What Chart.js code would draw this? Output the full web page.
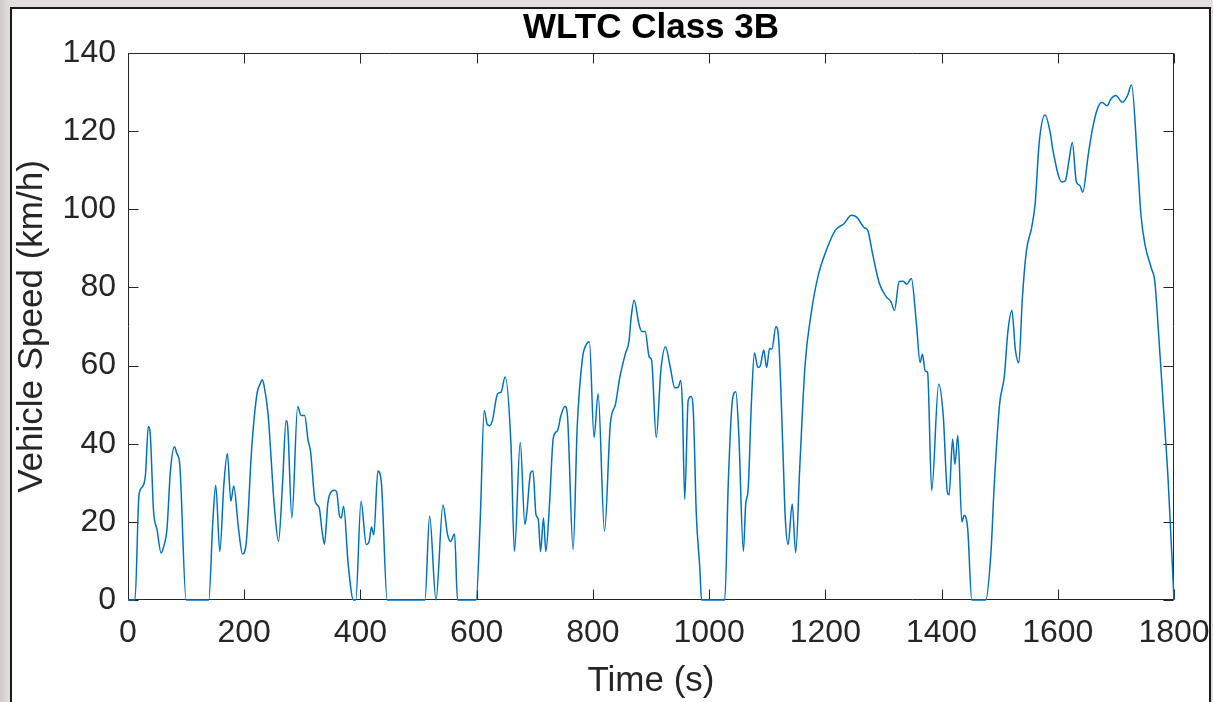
<!DOCTYPE html>
<html>
<head>
<meta charset="utf-8">
<script src="https://cdn.jsdelivr.net/npm/chart.js@4.4.1/dist/chart.umd.min.js"></script>
<style>
  html, body { margin: 0; padding: 0; }
  body { width: 1213px; height: 702px; overflow: hidden; position: relative;
         background: linear-gradient(90deg, #cfcaca 0px, #dcd8d8 6px, #e2dede 11px, #e2dede 100%); }
  #panel { position: absolute; left: 10px; top: 7px; width: 1197px; height: 700px;
           background: #ffffff; border: 2px solid #1a1a1a; }
  #wrap { position: absolute; left: 0; top: 0; width: 1213px; height: 702px; }
</style>
</head>
<body>
<div id="panel"></div>
<div id="wrap"><canvas id="c" width="1213" height="702"></canvas></div>
<script>
// ---- data (time in s, speed in km/h) ----
const timeSec = [
  0, 12, 19, 25, 30, 35, 38, 44, 50, 57, 62, 67, 73, 80, 84, 89, 100,
  139, 146, 151, 158, 165, 171, 177, 182, 190, 197, 203, 213, 222, 228, 231, 234, 241, 252, 259,
  266, 272, 275, 282, 292, 298, 304, 310, 314, 322, 329, 334, 338, 344, 351, 355, 359, 364, 367,
  371, 379, 388, 392, 401, 410, 415, 419, 423, 430, 436, 446,
  511, 519, 530, 542, 550, 555, 562, 567,
  599, 606, 613, 618, 622, 627, 636, 642, 649, 659, 665, 675, 683, 686, 693, 697, 702, 706,
  710, 715, 719, 725, 732, 739, 745, 752, 756, 766, 773, 782, 788, 794, 802, 809, 820, 830,
  839, 846, 856, 862, 866, 871, 879, 884, 890, 897, 901, 909, 917, 925, 933, 941, 947, 951,
  954, 958, 964, 969, 973, 978, 984, 987,
  1027, 1033, 1040, 1046, 1051, 1059, 1063, 1067, 1073, 1078, 1084, 1088, 1094, 1099, 1104,
  1108, 1115, 1120, 1127, 1131, 1136, 1143, 1149, 1156, 1165, 1176, 1188, 1203, 1217, 1232,
  1245, 1254, 1267, 1273, 1281, 1293, 1305, 1313, 1319, 1327, 1334, 1340, 1348, 1357, 1363,
  1367, 1372, 1376, 1383, 1395, 1403, 1410, 1413, 1419, 1423, 1428, 1435, 1439, 1445, 1452,
  1476, 1485, 1491, 1500, 1508, 1514, 1521, 1527, 1533, 1539, 1546, 1555, 1561, 1568, 1578,
  1587, 1592, 1607, 1613, 1619, 1625, 1632, 1638, 1643, 1652, 1659, 1668, 1676, 1685, 1691,
  1700, 1711, 1720, 1727, 1737, 1743, 1750, 1761, 1767, 1773, 1781, 1790, 1800
];
const speedKmh = [
  0, 0, 27, 29, 32, 44.4, 43, 22.7, 18, 12, 14, 18, 33, 39.2, 37.5, 34.8, 0,
  0, 20.2, 29.4, 12.4, 29.6, 37.5, 25.3, 29.2, 18.5, 11.8, 14, 39.1, 52.8, 55.5, 56.4, 55, 47.6, 23.6, 15,
  30, 45.9, 44, 21, 49.5, 47.2, 47.2, 40.8, 38.2, 25.3, 23.6, 17.6, 14.3, 24.9, 27.9, 28.1, 27.7, 21.5, 21,
  24, 9, 0, 0, 25.3, 14.2, 15, 18.7, 16.7, 33, 30, 0,
  0, 21.5, 0, 24.3, 16.7, 15, 16.9, 0,
  0, 20, 48.5, 45, 44.6, 45.9, 52.8, 53.2, 57.1, 39.9, 12.4, 40.3, 19.3, 22, 32.6, 33, 21.9, 20.6,
  12.4, 21, 12.4, 23.6, 41.6, 43.3, 47.2, 49.5, 47.6, 12.9, 44.2, 61.8, 65.2, 66.1, 41.6, 52.8, 17.6, 45,
  50.2, 56.7, 63.1, 66.1, 72.5, 76.7, 70.8, 68.7, 68.7, 62.2, 61.4, 41.6, 58.8, 64.8, 59.7, 54.3, 54.5, 56.2,
  50.2, 25.8, 51.1, 52.1, 47.6, 21.9, 8.2, 0,
  0, 30, 51, 53.3, 42.7, 12.5, 24.6, 28, 51.3, 63.2, 59.5, 59.9, 64, 59.5, 64.4,
  64.2, 70, 66, 38.4, 21.1, 14.2, 24.6, 12.1, 34, 59.9, 73.7, 83.2, 90, 94.6, 96.3,
  98.5, 98, 95.3, 94.6, 88.8, 81, 77.6, 76.3, 74.1, 81.5, 81.6, 80.8, 82.3, 70.3, 60.8,
  62.9, 58.6, 58.2, 28, 55.2, 47, 27.6, 26.9, 41.2, 34.7, 42.1, 20, 21.7, 18.2, 0,
  0, 12.2, 30.4, 50.3, 57.2, 68.5, 74.1, 64.1, 60.7, 77.1, 89.3, 95.3, 101.4, 117, 124.1,
  119.6, 114.8, 107, 107.3, 112.2, 117.1, 107, 106.1, 104.4, 113.5, 120, 125.6, 127.4, 126.5, 128.1,
  129.1, 127.4, 129.1, 131.9, 112.6, 98.8, 91, 84.9, 81.5, 69.3, 51.2, 30.4, 0
];
const xTickValues = [0, 200, 400, 600, 800, 1000, 1200, 1400, 1600, 1800];
const yTickValues = [0, 20, 40, 60, 80, 100, 120, 140];
const chartTitle = 'WLTC Class 3B';
const xTitle = 'Time (s)';
const yTitle = 'Vehicle Speed (km/h)';

const points = timeSec.map((t, i) => ({ x: t, y: speedKmh[i] }));
const AXIS = '#262626';
const FONT = "'Liberation Sans', Arial, Helvetica, sans-serif";

const boxPlugin = {
  id: 'matlabBox',
  beforeDatasetsDraw(chart) {
    const { ctx, chartArea: a, scales: { x, y } } = chart;
    const L = 10;
    ctx.save();
    ctx.strokeStyle = AXIS;
    ctx.lineWidth = 1;
    ctx.beginPath();
    const l = Math.round(a.left) + 0.5, r = Math.round(a.right) - 0.5;
    const t = Math.round(a.top) + 0.5, b = Math.round(a.bottom) - 0.5;
    ctx.rect(l, t, r - l, b - t);
    xTickValues.forEach(v => {
      const px = Math.round(x.getPixelForValue(v)) + 0.5;
      ctx.moveTo(px, b); ctx.lineTo(px, b - L);
      ctx.moveTo(px, t); ctx.lineTo(px, t + L);
    });
    yTickValues.forEach(v => {
      const py = Math.round(y.getPixelForValue(v)) + 0.5;
      ctx.moveTo(l, py); ctx.lineTo(l + L, py);
      ctx.moveTo(r, py); ctx.lineTo(r - L, py);
    });
    ctx.stroke();
    ctx.restore();
  }
};

new Chart(document.getElementById('c'), {
  type: 'line',
  data: {
    datasets: [{
      data: points,
      borderColor: '#0072BD',
      borderWidth: 1.5,
      pointRadius: 0,
      fill: false,
      clip: 4,
      cubicInterpolationMode: 'monotone'
    }]
  },
  options: {
    responsive: false,
    animation: false,
    devicePixelRatio: 1,
    layout: { padding: { left: 0, right: 39, top: 0, bottom: 0 } },
    plugins: {
      legend: { display: false },
      tooltip: { enabled: false },
      title: {
        display: true,
        text: chartTitle,
        fullSize: false,
        color: '#000000',
        font: { family: FONT, size: 35, weight: 'bold', lineHeight: 1.0 },
        padding: { top: 10.5, bottom: 7.5 }
      }
    },
    scales: {
      x: {
        type: 'linear',
        min: 0, max: 1800,
        afterBuildTicks(scale) { scale.ticks = xTickValues.map(v => ({ value: v })); },
        afterFit(scale) { scale.height = 102; scale.paddingRight = 0; },
        grid: { display: false, drawTicks: false },
        border: { display: false },
        ticks: { color: AXIS, padding: 14, maxRotation: 0, autoSkip: false,
                 callback: v => String(v),
                 font: { family: FONT, size: 32 } },
        title: { display: true, text: xTitle, color: AXIS,
                 font: { family: FONT, size: 35, lineHeight: 1.2 }, padding: { top: 0, bottom: 0 } }
      },
      y: {
        type: 'linear',
        min: 0, max: 140,
        afterBuildTicks(scale) { scale.ticks = yTickValues.map(v => ({ value: v })); },
        afterFit(scale) { scale.width = 128; },
        grid: { display: false, drawTicks: false },
        border: { display: false },
        ticks: { color: AXIS, padding: 12, autoSkip: false,
                 callback: v => String(v),
                 font: { family: FONT, size: 32 } },
        title: { display: true, text: yTitle, color: AXIS,
                 font: { family: FONT, size: 35, lineHeight: 1.2 }, padding: { top: 11, bottom: 0 } }
      }
    }
  },
  plugins: [boxPlugin]
});
</script>
</body>
</html>
